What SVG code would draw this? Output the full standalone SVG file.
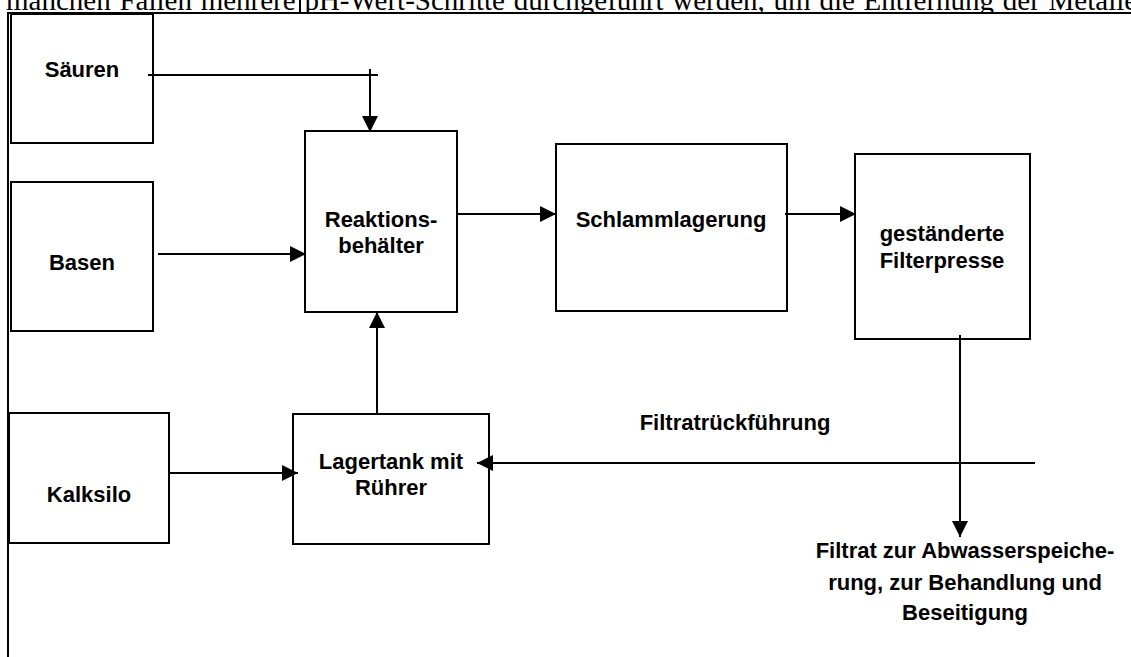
<svg xmlns="http://www.w3.org/2000/svg" width="1131" height="657" viewBox="0 0 1131 657">
  <style>
    .box { fill: #fff; stroke: #000; stroke-width: 2; }
    .lbl { font-family: "Liberation Sans", Arial, Helvetica, sans-serif; font-weight: bold; font-size: 22px; text-anchor: middle; fill: #000; }
    .wire { stroke: #000; stroke-width: 2; fill: none; }
    .arrow { stroke: #000; stroke-width: 2; fill: none; marker-end: url(#head); }
    .frame { stroke: #000; stroke-width: 2; fill: none; }
    .body { font-family: "Liberation Serif", "Times New Roman", serif; font-size: 29px; word-spacing: 1.5px; fill: #000; }
  </style>
  <defs>
    <marker id="head" markerUnits="userSpaceOnUse" markerWidth="16" markerHeight="16" viewBox="0 0 16 16" refX="16" refY="8" orient="auto">
      <path d="M0,0 L16,8 L0,16 Z" fill="#000"/>
    </marker>
    <clipPath id="topline">
      <rect x="0" y="0" width="1131" height="12"/>
    </clipPath>
  </defs>
  <rect width="1131" height="657" fill="#fff"/>

  <!-- running text of the page above the figure frame -->
  <text class="body" x="6" y="10" clip-path="url(#topline)">manchen Fällen mehrere pH-Wert-Schritte durchgeführt werden, um die Entfernung der Metalle</text>

  <!-- figure frame -->
  <g id="frame">
    <line class="frame" x1="8" y1="13" x2="1131" y2="13"/>
    <line class="frame" x1="8" y1="12" x2="8" y2="657"/>
    <line class="frame" x1="300" y1="0" x2="300" y2="13"/>
  </g>

  <g id="saeuren">
    <rect class="box" x="11" y="14" width="142" height="129"/>
    <text class="lbl" x="82" y="77">Säuren</text>
  </g>
  <g id="basen">
    <rect class="box" x="11" y="182" width="142" height="149"/>
    <text class="lbl" x="82" y="270">Basen</text>
  </g>
  <g id="kalksilo">
    <rect class="box" x="9" y="413" width="160" height="130"/>
    <text class="lbl" x="89" y="502">Kalksilo</text>
  </g>
  <g id="reaktionsbehaelter">
    <rect class="box" x="305" y="131" width="152" height="181"/>
    <text class="lbl" x="381" y="227">Reaktions-</text>
    <text class="lbl" x="381" y="253">behälter</text>
  </g>
  <g id="schlammlagerung">
    <rect class="box" x="556" y="144" width="231" height="167"/>
    <text class="lbl" x="671" y="227">Schlammlagerung</text>
  </g>
  <g id="filterpresse">
    <rect class="box" x="855" y="154" width="175" height="185"/>
    <text class="lbl" x="942" y="241">geständerte</text>
    <text class="lbl" x="942" y="268">Filterpresse</text>
  </g>
  <g id="lagertank">
    <rect class="box" x="293" y="414" width="196" height="130"/>
    <text class="lbl" x="391" y="469">Lagertank mit</text>
    <text class="lbl" x="391" y="495">Rührer</text>
  </g>
  <g id="filtratrueckfuehrung">
    <text class="lbl" x="735" y="430">Filtratrückführung</text>
  </g>
  <g id="filtrat">
    <text class="lbl" x="965" y="558">Filtrat zur Abwasserspeiche-</text>
    <text class="lbl" x="965" y="590">rung, zur Behandlung und</text>
    <text class="lbl" x="965" y="620">Beseitigung</text>
  </g>

  <g id="connectors">
    <line class="wire" x1="148" y1="75" x2="378" y2="75"/>
    <line class="arrow" x1="370" y1="69" x2="370" y2="132"/>
    <line class="arrow" x1="158" y1="254" x2="306" y2="254"/>
    <line class="arrow" x1="168" y1="473" x2="298" y2="473"/>
    <line class="arrow" x1="377" y1="414" x2="377" y2="312"/>
    <line class="arrow" x1="457" y1="214" x2="556" y2="214"/>
    <line class="arrow" x1="785" y1="214" x2="856" y2="214"/>
    <line class="arrow" x1="960" y1="335" x2="960" y2="537"/>
    <line class="arrow" x1="1035" y1="463" x2="477" y2="463"/>
  </g>
</svg>
